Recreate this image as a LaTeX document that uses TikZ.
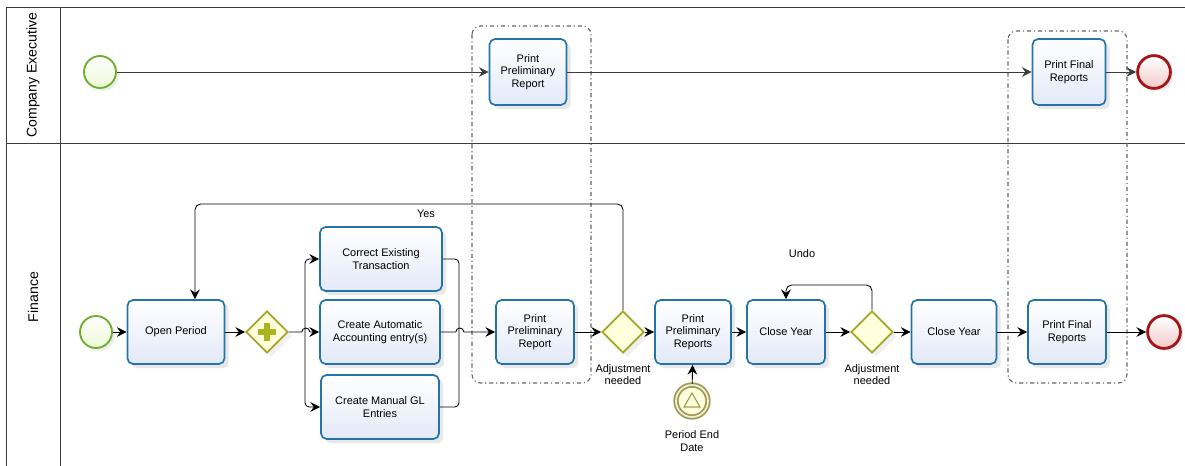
\documentclass[tikz,border=0pt]{standalone}
\usepackage{fontspec}
\setmainfont{Liberation Sans}
\usetikzlibrary{arrows.meta,shapes.geometric,shadows,positioning}
\definecolor{taskblue}{HTML}{2474A8}
\definecolor{taskfill}{HTML}{E2E9F8}
\definecolor{gateolive}{HTML}{A8A42A}
\definecolor{gatefill}{HTML}{FFFFDC}
\definecolor{plusgreen}{HTML}{A9B520}
\definecolor{startgreen}{HTML}{6CAF2C}
\definecolor{startfill}{HTML}{EEF8D6}
\definecolor{endred}{HTML}{A51515}
\definecolor{endfill}{HTML}{F2CACA}
\definecolor{eventolive}{HTML}{A39C55}
\definecolor{lanegray}{HTML}{3C3C3C}
\tikzset{ % common BPMN looks
	task/.style={draw=taskblue, line width=1.2pt, rounded corners=4pt,
		top color=white, bottom color=taskfill, minimum height=1.6cm,
		align=center, font=\fontsize{7.8}{9}\selectfont,
		drop shadow={opacity=0.18, shadow xshift=3pt, shadow yshift=-3pt}},
	gate/.style={diamond, draw=gateolive, line width=1.2pt, fill=gatefill,
		minimum width=1.05cm, minimum height=1.05cm, inner sep=0pt,
		drop shadow={opacity=0.12, shadow xshift=3pt, shadow yshift=-3pt}},
	startev/.style={circle, draw=startgreen, line width=1.3pt, inner sep=0pt,
		top color=white, bottom color=startfill, minimum size=0.8cm,
		drop shadow={opacity=0.15, shadow xshift=2pt, shadow yshift=-2pt}},
	endev/.style={circle, draw=endred, line width=2pt, inner sep=0pt,
		top color=white, bottom color=endfill, minimum size=0.82cm,
		drop shadow={opacity=0.15, shadow xshift=2pt, shadow yshift=-2pt}},
	midev/.style={circle, draw=eventolive, line width=1.3pt, double=gatefill!60!eventolive!40,
		double distance=1.2pt, fill=gatefill, inner sep=0pt, minimum size=0.8cm},
	flow/.style={draw=black, line width=0.6pt, -{Stealth[length=7pt,width=7pt,inset=2.5pt]}},
	plain/.style={draw=black, line width=0.6pt},
	group/.style={draw=gray!80!black, line width=0.8pt, rounded corners=6pt, dash dot},
	lane/.style={draw=lanegray, line width=0.7pt},
	lanelabel/.style={rotate=90, font=\fontsize{10}{12}\selectfont},
	note/.style={align=center, font=\fontsize{7.8}{9}\selectfont, inner sep=1pt}
}

\begin{document}
\begin{tikzpicture}[x=0.025cm, y=-0.025cm]
	\useasboundingbox (0,0) rectangle (1185,466);
	% Draw pool and lanes
	\draw[lane] (6,466) -- (6,7) -- (1185,7);
	\draw[lane] (60,7) -- (60,466);
	\draw[lane] (6,143) -- (1185,143);
	\node[lanelabel] (exec) at (33,75) {Company Executive};
	\node[lanelabel] (fin) at (33,297) {Finance};
	% Draw groups
	\draw[group] (472,26) rectangle (591,383);
	\draw[group] (1008,31) rectangle (1127,383);
	% Company executive lane
	\node[startev] (cstart) at (100,72) {};
	\node[task, minimum width=1.925cm, minimum height=1.65cm] (cppr) at (528,72) {Print\\Preliminary\\Report};
	\node[task, minimum width=1.825cm, minimum height=1.65cm] (cpfr) at (1069,72) {Print Final\\Reports};
	\node[endev] (cend) at (1154,72) {};
	\draw[flow, draw=lanegray] (cstart) -- (cppr);
	\draw[flow, draw=lanegray] (cppr) -- (cpfr);
	\draw[flow, draw=lanegray] (cpfr) -- (cend);
	% Finance lane
	\node[startev] (fstart) at (96,332) {};
	\node[task, minimum width=2.425cm] (open) at (176,332) {Open Period};
	\node[gate] (fork) at (267,332) {};
	\draw[plusgreen, line width=4pt] ([xshift=-9*0.025cm]fork.center) -- ([xshift=9*0.025cm]fork.center);
	\draw[plusgreen, line width=4pt] ([yshift=-9*0.025cm]fork.center) -- ([yshift=9*0.025cm]fork.center);
	\node[task, minimum width=3.05cm] (correct) at (381,259) {Correct Existing\\Transaction};
	\node[task, minimum width=3cm] (auto) at (380,332) {Create Automatic\\Accounting entry(s)};
	\node[task, minimum width=2.95cm] (manual) at (380,407) {Create Manual GL\\Entries};
	\node[task, minimum width=1.95cm] (ppr) at (535,332) {Print\\Preliminary\\Report};
	\node[gate] (adj1) at (623,332) {};
	\node[note, below=0.22cm of adj1] (adj1txt) {Adjustment\\needed};
	\node[task, minimum width=1.9cm] (pprs) at (693,332) {Print\\Preliminary\\Reports};
	\node[midev] (pend) at (692,401) {};
	\draw[eventolive, line width=0.8pt] ([yshift=8*0.025cm]pend.center) -- ([xshift=8*0.025cm,yshift=-6*0.025cm]pend.center) -- ([xshift=-8*0.025cm,yshift=-6*0.025cm]pend.center) -- cycle;
	\node[note, below=0.27cm of pend] (pendtxt) {Period End\\Date};
	\node[task, minimum width=1.95cm] (close1) at (786,332) {Close Year};
	\node[gate] (adj2) at (872,332) {};
	\node[note, below=0.22cm of adj2] (adj2txt) {Adjustment\\needed};
	\node[task, minimum width=2.125cm] (close2) at (954,332) {Close Year};
	\node[task, minimum width=1.95cm] (fpfr) at (1067,332) {Print Final\\Reports};
	\node[endev] (fend) at (1164,332) {};
	\coordinate (split) at (305,332);
	\coordinate (merge) at (459,332);
	\coordinate (yesturn) at (195,204);
	\coordinate (undoturn) at (786,285);
	% Draw sequence flows
	\draw[flow] (fstart) -- (open);
	\draw[flow] (open) -- (fork);
	\draw[flow] (fork.east) -- ++(13,0) arc[start angle=180, end angle=0, radius=0.1cm] -- (auto.west);
	\draw[flow, rounded corners=3pt] (split) |- (correct.west);
	\draw[flow, rounded corners=3pt] (split) |- (manual.west);
	\draw[plain, rounded corners=3pt] (correct.east) -| (merge);
	\draw[plain, rounded corners=3pt] (manual.east) -| (merge);
	\draw[flow] (auto.east) -- ++(15,0) arc[start angle=180, end angle=0, radius=0.1cm] -- (ppr.west);
	\draw[flow] (ppr) -- (adj1);
	\draw[flow] (adj1) -- (pprs);
	\draw[flow] (pend) -- (pprs);
	\draw[flow] (pprs) -- (close1);
	\draw[flow] (close1) -- (adj2);
	\draw[flow] (adj2) -- (close2);
	\draw[flow] (close2) -- (fpfr);
	\draw[flow] (fpfr) -- (fend);
	% Draw loops back
	\draw[flow, rounded corners=4pt] (adj1.north) |- (yesturn) -- (yesturn |- open.north);
	\draw[flow, rounded corners=4pt] (adj2.north) |- (undoturn) -- (close1.north);
	\node[note] (yes) at (426,214) {Yes};
	\node[note] (undo) at (802,254) {Undo};
\end{tikzpicture}
\end{document}
